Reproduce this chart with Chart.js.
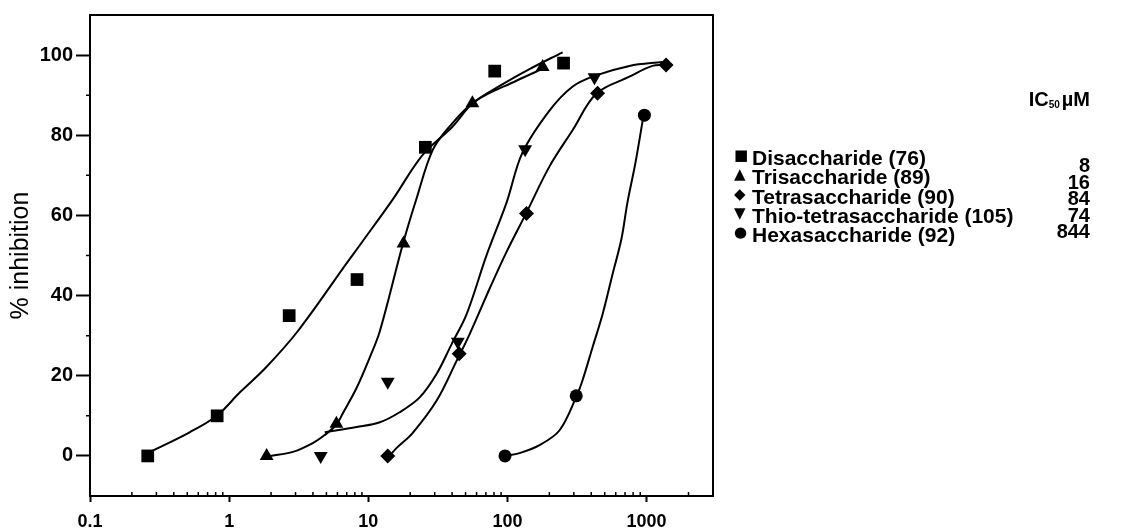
<!DOCTYPE html>
<html>
<head>
<meta charset="utf-8">
<script src="https://cdn.jsdelivr.net/npm/chart.js@4.4.1/dist/chart.umd.min.js"></script>
<style>
  html, body { margin: 0; padding: 0; background: #fff; }
  #wrap { position: relative; width: 1131px; height: 530px; }
  #wrap canvas { position: absolute; left: 0; top: 0; }
  .row { position: absolute; left: 734px; height: 24px; line-height: 24px;
         font: bold 21px "Liberation Sans", Arial, sans-serif; color: #000; white-space: nowrap; }
  .mark { display: inline-block; width: 18px; font: 15px "DejaVu Sans", sans-serif; vertical-align: top; }
  .ic { position: absolute; right: 41px; height: 24px; line-height: 24px;
        font: bold 20px "Liberation Sans", Arial, sans-serif; color: #000; text-align: right; }
  .head { position: absolute; right: 41px; top: 88px; font: bold 20px "Liberation Sans", Arial, sans-serif; color: #000; }
  .head sub { font-size: 10px; vertical-align: -2px; margin-right: 2px; }
</style>
</head>
<body>
<div id="wrap">
  <canvas id="chart" width="1131" height="530"></canvas>
  <div class="head">IC<sub>50</sub>µM</div>
  <div id="legend"></div>
</div>
<script>
// measured points: concentration (µM) and % inhibition
const disX = [0.26, 0.82, 2.7, 8.3, 25.7, 81, 253];
const disY = [0, 10, 35, 44, 77, 96, 98];
const triX = [1.86, 5.9, 17.9, 56, 179];
const triY = [0, 8, 53, 88, 97];
const tetX = [13.8, 45, 137, 444, 1380];
const tetY = [0, 25.5, 60.5, 90.5, 97.5];
const thioX = [4.55, 13.8, 44, 134, 422];
const thioY = [0, 18.5, 28.5, 76.5, 94.5];
const hexX = [96, 312, 964];
const hexY = [0, 15, 85];

// fitted curves
const disCurveX = [0.27, 0.52, 0.82, 1.19, 1.83, 3.11, 7.1, 9.0, 15, 24.6, 40.4, 56, 88, 144, 249];
const disCurveY = [1, 5.9, 10.1, 15.8, 22, 31.1, 48.4, 53.3, 64, 75.1, 82.2, 87.9, 92.3, 96.5, 100.7];
const triCurveX = [1.96, 2.87, 3.99, 4.86, 5.93, 6.55, 8.25, 10.2, 12.1, 17.7, 22.3, 29, 38.4, 58, 116, 185];
const triCurveY = [0, 1, 3.2, 5.2, 7.9, 10.6, 17, 24.4, 31.1, 52.8, 64.4, 76.3, 82.2, 88.4, 93.6, 96.8];
const tetCurveX = [14.2, 16, 20.8, 31, 43.1, 53.5, 74.4, 98.5, 137, 201, 293, 436, 752, 1100, 1387];
const tetCurveY = [0, 2, 5.7, 13.8, 23.7, 30.4, 41.7, 50.9, 60.7, 72.3, 81.2, 90.4, 94.6, 97.3, 97.5];
const thioCurveX = [4.86, 8.25, 12.1, 16.8, 23.4, 31, 39.7, 50.8, 70.8, 98.5, 128, 201, 293, 422, 752, 1298];
const thioCurveY = [5.9, 7.2, 8.4, 10.9, 14.6, 20.5, 27.9, 35.3, 50.1, 63.2, 75.6, 86.2, 92.1, 94.8, 97.3, 98.3];
const hexCurveX = [96.9, 122, 170, 237, 313, 346, 408, 482, 568, 659, 728, 831, 948];
const hexCurveY = [0, 0.7, 2.7, 6.4, 14.8, 18.8, 27, 35.3, 45.2, 54.1, 63.2, 73.1, 84.7];

const seriesNames = ["Disaccharide (76)", "Trisaccharide (89)", "Tetrasaccharide (90)",
  "Thio-tetrasaccharide (105)", "Hexasaccharide (92)"];
const ic50 = ["8", "16", "84", "74", "844"];
const marks = ["\u25A0", "\u25B2", "\u25C6", "\u25BC", "\u25CF"];

const xTicks = [0.1, 1, 10, 100, 1000];
const yTicks = [0, 20, 40, 60, 80, 100];
const yMinor = [10, 30, 50, 70, 90];

const font = "'Liberation Sans', Arial, sans-serif";

const pts = (xs, ys) => xs.map((x, i) => ({ x, y: ys[i] }));

function markers(xs, ys, style, radius, rotation = 0) {
  return {
    data: pts(xs, ys),
    showLine: false,
    pointStyle: style,
    pointRadius: radius,
    rotation,
    backgroundColor: "#000",
    borderColor: "#000",
    borderWidth: 0,
    order: 0,
  };
}

function curve(xs, ys) {
  return {
    data: pts(xs, ys),
    showLine: true,
    pointRadius: 0,
    borderColor: "#000",
    borderWidth: 2,
    tension: 0.35,
    order: 1,
  };
}

// frame around the plot plus the small minor ticks
const frame = {
  id: "frame",
  afterDraw(chart) {
    const { ctx, chartArea: a, scales } = chart;
    ctx.save();
    ctx.strokeStyle = "#000";
    ctx.lineWidth = 2;
    ctx.strokeRect(a.left, a.top, a.right - a.left, a.bottom - a.top);
    ctx.lineWidth = 1.5;
    ctx.beginPath();
    yMinor.forEach((v) => {
      const py = scales.y.getPixelForValue(v);
      ctx.moveTo(a.left - 4, py);
      ctx.lineTo(a.left, py);
    });
    for (let d = 0.1; d < 3000; d *= 10) {
      for (let k = 2; k <= 9; k++) {
        const v = d * k;
        if (v > 3000) break;
        const px = scales.x.getPixelForValue(v);
        ctx.moveTo(px, a.bottom);
        ctx.lineTo(px, a.bottom - 4);
      }
    }
    ctx.stroke();
    ctx.restore();
  },
};

new Chart(document.getElementById("chart"), {
  type: "scatter",
  data: {
    datasets: [
      markers(disX, disY, "rect", 9),
      markers(triX, triY, "triangle", 8),
      markers(tetX, tetY, "rectRot", 7.5),
      markers(thioX, thioY, "triangle", 8, 180),
      markers(hexX, hexY, "circle", 6.5),
      curve(disCurveX, disCurveY),
      curve(triCurveX, triCurveY),
      curve(tetCurveX, tetCurveY),
      curve(thioCurveX, thioCurveY),
      curve(hexCurveX, hexCurveY),
    ],
  },
  options: {
    responsive: false,
    animation: false,
    layout: { padding: { top: 13, right: 418, bottom: 0, left: 0 } },
    plugins: { legend: { display: false }, tooltip: { enabled: false } },
    scales: {
      x: {
        type: "logarithmic",
        min: 0.1,
        max: 3000,
        afterBuildTicks: (s) => { s.ticks = xTicks.map((v) => ({ value: v })); },
        afterFit: (s) => { s.height = 34; },
        ticks: {
          color: "#000",
          font: { family: font, size: 18, weight: "bold" },
          padding: 9,
          maxRotation: 0,
          autoSkip: false,
          callback: (v) => String(v),
        },
        grid: { drawOnChartArea: false, tickLength: 6, tickWidth: 2, color: "#000" },
        border: { display: false },
      },
      y: {
        min: -10,
        max: 110,
        afterBuildTicks: (s) => { s.ticks = yTicks.map((v) => ({ value: v })); },
        afterFit: (s) => { s.width = 90; },
        ticks: {
          color: "#000",
          font: { family: font, size: 20, weight: "bold" },
          padding: 3,
        },
        grid: { drawOnChartArea: false, tickLength: 14, tickWidth: 2, color: "#000" },
        border: { display: false },
        title: {
          display: true,
          text: "% inhibition",
          color: "#000",
          font: { family: font, size: 25 },
          padding: { top: 6, bottom: 0 },
        },
      },
    },
  },
  plugins: [frame],
});

// series key with IC50 column
const legend = document.getElementById("legend");
seriesNames.forEach((name, i) => {
  const row = document.createElement("div");
  row.className = "row";
  row.style.top = 146 + i * 19.3 + "px";
  row.innerHTML = '<span class="mark">' + marks[i] + "</span>" + name;
  legend.appendChild(row);
  const val = document.createElement("div");
  val.className = "ic";
  val.style.top = 154 + i * 16.5 + "px";
  val.textContent = ic50[i];
  legend.appendChild(val);
});
</script>
</body>
</html>
